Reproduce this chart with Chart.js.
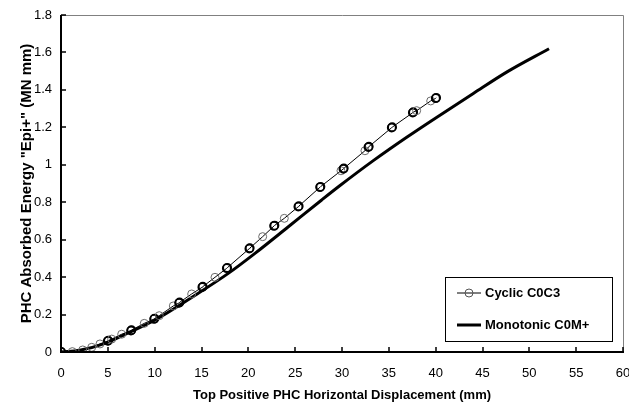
<!DOCTYPE html>
<html>
<head>
<meta charset="utf-8">
<script src="https://cdn.jsdelivr.net/npm/chart.js@4/dist/chart.umd.min.js"></script>
<style>
html,body{margin:0;padding:0;background:#fff;}
#wrap{position:relative;width:629px;height:414px;}
</style>
</head>
<body>
<div id="wrap"><canvas id="c" width="629" height="414"></canvas></div>
<script>
// Cyclic C0C3 (peak points; repeated cycles overlap)
const cyclicX = [0, 0.03, 1.21, 2.32, 3.28, 4.16, 4.99, 5.05, 5.41, 6.48, 7.47, 7.53, 8.89, 9.93, 9.99, 10.49, 11.99, 12.60, 12.66, 13.95, 15.08, 15.14, 16.44, 17.69, 17.75, 20.10, 20.16, 21.53, 22.74, 22.80, 23.84, 25.33, 25.39, 27.65, 27.71, 29.89, 30.14, 30.20, 32.45, 32.81, 32.87, 35.30, 35.36, 37.55, 37.61, 37.97, 39.47, 40.00, 40.06];
const cyclicY = [0, 0.001, 0.002, 0.011, 0.025, 0.043, 0.059, 0.061, 0.069, 0.095, 0.114, 0.117, 0.153, 0.176, 0.179, 0.194, 0.246, 0.262, 0.265, 0.310, 0.346, 0.349, 0.399, 0.447, 0.450, 0.552, 0.555, 0.616, 0.673, 0.676, 0.714, 0.776, 0.779, 0.880, 0.883, 0.968, 0.978, 0.981, 1.075, 1.094, 1.097, 1.198, 1.201, 1.278, 1.281, 1.289, 1.341, 1.355, 1.358];
// Monotonic C0M+
const monoX = [0, 2.0, 4.70, 7.0, 10.04, 14.66, 17.86, 20.71, 24.27, 27.83, 29.79, 33.34, 36.91, 40.46, 44.02, 47.58, 52.10];
const monoY = [0, 0.009, 0.046, 0.098, 0.171, 0.314, 0.420, 0.527, 0.669, 0.812, 0.889, 1.022, 1.147, 1.265, 1.381, 1.495, 1.620];
const xTicks = [0, 5, 10, 15, 20, 25, 30, 35, 40, 45, 50, 55, 60];
const yTicks = [0, 0.2, 0.4, 0.6, 0.8, 1, 1.2, 1.4, 1.6, 1.8];
const seriesNames = ['Cyclic C0C3', 'Monotonic C0M+'];
const xTitle = 'Top Positive PHC Horizontal Displacement (mm)';
const yTitle = 'PHC Absorbed Energy "Epi+" (MN mm)';

const FONT = '"Liberation Sans", Arial, sans-serif';

// a marker is drawn darker when another cycle peak lies on top of it
function overlapped(i) {
  const near = j => j >= 0 && j < cyclicX.length && Math.abs(cyclicX[j] - cyclicX[i]) < 0.1;
  return near(i - 1) || near(i + 1);
}

const framePlugin = {
  id: 'frame',
  beforeDatasetsDraw(chart) {
    const {ctx, chartArea: a} = chart;
    ctx.save();
    ctx.strokeStyle = '#808080';
    ctx.lineWidth = 1;
    ctx.beginPath();
    ctx.moveTo(a.left, a.top + 0.5);
    ctx.lineTo(a.right + 0.5, a.top + 0.5);
    ctx.lineTo(a.right + 0.5, a.bottom);
    ctx.stroke();
    ctx.restore();
  },
  afterDatasetsDraw(chart) {
    const {ctx, chartArea: a, scales} = chart;
    ctx.save();
    ctx.strokeStyle = '#000';
    ctx.lineWidth = 2;
    ctx.beginPath();
    ctx.moveTo(a.left, a.top);
    ctx.lineTo(a.left, a.bottom);
    ctx.lineTo(a.right + 1, a.bottom);
    ctx.stroke();
    ctx.lineWidth = 1.5;
    ctx.beginPath();
    xTicks.forEach(v => {
      const px = Math.round(scales.x.getPixelForValue(v));
      ctx.moveTo(px, a.bottom);
      ctx.lineTo(px, a.bottom - 5);
    });
    yTicks.forEach(v => {
      const py = Math.round(scales.y.getPixelForValue(v));
      ctx.moveTo(a.left, py);
      ctx.lineTo(a.left + 5, py);
    });
    ctx.stroke();

    // legend box
    const bx = 445, by = 277, bw = 167, bh = 64;
    ctx.fillStyle = '#fff';
    ctx.fillRect(bx, by, bw, bh);
    ctx.strokeStyle = '#000';
    ctx.lineWidth = 1;
    ctx.strokeRect(bx + 0.5, by + 0.5, bw, bh);
    const y1 = by + 16, y2 = by + 48;
    ctx.beginPath();
    ctx.moveTo(bx + 12, y1); ctx.lineTo(bx + 36, y1);
    ctx.stroke();
    ctx.beginPath();
    ctx.strokeStyle = '#555';
    ctx.arc(bx + 24, y1, 4, 0, Math.PI * 2);
    ctx.stroke();
    ctx.strokeStyle = '#000';
    ctx.lineWidth = 3;
    ctx.beginPath();
    ctx.moveTo(bx + 12, y2); ctx.lineTo(bx + 36, y2);
    ctx.stroke();
    ctx.fillStyle = '#000';
    ctx.font = 'bold 13px ' + FONT;
    ctx.textBaseline = 'middle';
    ctx.textAlign = 'left';
    ctx.fillText(seriesNames[0], bx + 40, y1);
    ctx.fillText(seriesNames[1], bx + 40, y2);
    ctx.restore();
  }
};

new Chart(document.getElementById('c'), {
  type: 'scatter',
  data: {
    datasets: [
      {
        label: seriesNames[1],
        data: monoX.map((x, i) => ({x: x, y: monoY[i]})),
        showLine: true,
        borderColor: '#000',
        borderWidth: 3,
        pointRadius: 0,
        tension: 0.4,
        cubicInterpolationMode: 'monotone',
        order: 2
      },
      {
        label: seriesNames[0],
        data: cyclicX.map((x, i) => ({x: x, y: cyclicY[i]})),
        showLine: true,
        borderColor: '#000',
        borderWidth: 1,
        pointRadius: 4,
        pointBorderWidth: c => overlapped(c.dataIndex) ? 1.6 : 1,
        pointBorderColor: c => overlapped(c.dataIndex) ? '#000' : '#6a6a6a',
        pointBackgroundColor: 'rgba(0,0,0,0)',
        tension: 0,
        order: 1
      }
    ]
  },
  plugins: [framePlugin],
  options: {
    responsive: false,
    animation: false,
    devicePixelRatio: 1,
    layout: {padding: {left: 0, right: 6, top: 15, bottom: 0}},
    plugins: {legend: {display: false}, tooltip: {enabled: false}},
    scales: {
      x: {
        type: 'linear', min: 0, max: 60,
        afterBuildTicks: s => { s.ticks = xTicks.map(v => ({value: v})); },
        afterFit: s => { s.height = 62; s.paddingLeft = 0; s.paddingRight = 0; },
        grid: {display: false},
        border: {display: false},
        ticks: {color: '#000', font: {family: FONT, size: 13}, padding: 6, maxRotation: 0, callback: v => String(v)},
        title: {display: true, text: xTitle, color: '#000', font: {family: FONT, size: 13, weight: 'bold'}, padding: {top: 0, bottom: 11}}
      },
      y: {
        type: 'linear', min: 0, max: 1.8,
        afterBuildTicks: s => { s.ticks = yTicks.map(v => ({value: v})); },
        afterFit: s => { s.width = 61; s.paddingTop = 0; s.paddingBottom = 0; },
        grid: {display: false},
        border: {display: false},
        ticks: {color: '#000', font: {family: FONT, size: 13}, padding: 1, callback: v => String(v)},
        title: {display: true, text: yTitle, color: '#000', font: {family: FONT, size: 15, weight: 'bold'}, padding: {top: 18, bottom: 0}}
      }
    }
  }
});
</script>
</body>
</html>
